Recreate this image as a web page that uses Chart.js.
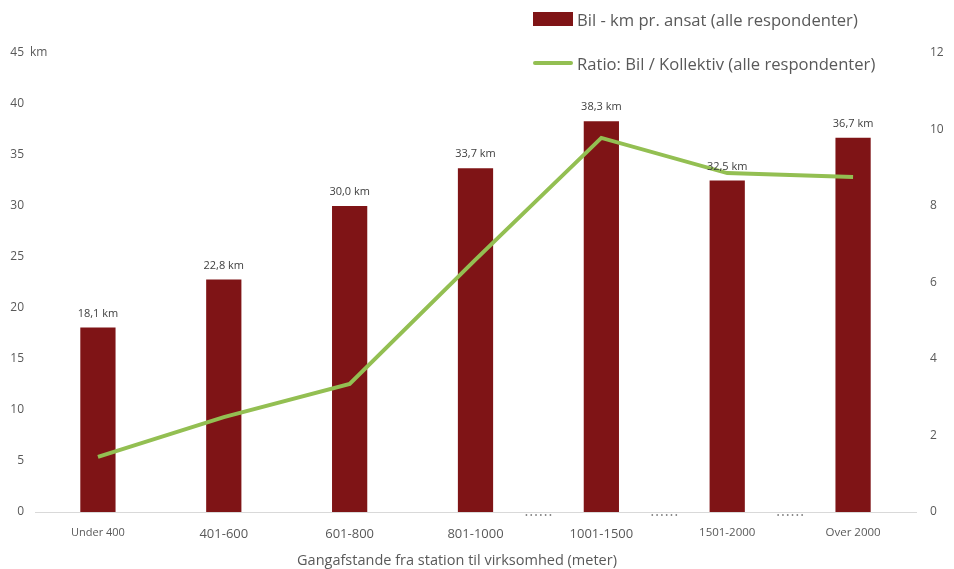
<!DOCTYPE html>
<html>
<head>
<meta charset="utf-8">
<script src="https://cdn.jsdelivr.net/npm/chart.js@4"></script>
<style>
  html, body { margin: 0; padding: 0; background: #fff; }
  #wrap { position: relative; width: 954px; height: 569px; font-family: "Open Sans", sans-serif; }
  #legend { position: absolute; left: 533px; top: 4px; color: #595959; font-size: 16.6px; }
  .item { display: flex; align-items: center; height: 30px; margin-bottom: 14px; }
  .sw { width: 40px; margin-right: 4px; }
</style>
</head>
<body>
<div id="wrap">
  <canvas id="chart" width="954" height="569"></canvas>
  <div id="legend"></div>
</div>
<script>
const categories = ["Under 400", "401-600", "601-800", "801-1000", "1001-1500", "1501-2000", "Over 2000"];
const kmPerEmployee = [18.1, 22.8, 30.0, 33.7, 38.3, 32.5, 36.7];
const ratioCarTransit = [1.44, 2.48, 3.35, 6.6, 9.78, 8.86, 8.76];
const tickSizes = [11, 13, 13, 13, 13, 11.5, 11.5];
// gaps in the distance bands, drawn as dotted marks between categories
const gapAfter = [3, 4, 5];

const barColor = "#7f1416";
const lineColor = "#93bf52";
const textColor = "#595959";

const extras = {
  id: "extras",
  afterDraw(chart) {
    const ctx = chart.ctx;
    ctx.save();
    // value labels over the bars
    ctx.fillStyle = "#404040";
    ctx.font = "11px 'Open Sans'";
    ctx.textAlign = "center";
    ctx.textBaseline = "middle";
    chart.getDatasetMeta(1).data.forEach((bar, i) => {
      ctx.fillText(kmPerEmployee[i].toFixed(1).replace(".", ",") + " km", bar.x, bar.y - 14);
    });
    // unit next to top tick
    const y = chart.scales.y;
    ctx.fillStyle = textColor;
    ctx.textAlign = "left";
    ctx.font = "12px 'Open Sans'";
    ctx.fillText("km", 30, y.getPixelForValue(45));
    // dotted gap marks
    const x = chart.scales.x;
    ctx.fillStyle = "#7f7f7f";
    gapAfter.forEach((i) => {
      const mid = (x.getPixelForValue(i) + x.getPixelForValue(i + 1)) / 2;
      for (let k = 0; k < 6; k++) {
        ctx.beginPath();
        ctx.arc(mid - 12 + k * 4.8, y.bottom + 3, 0.9, 0, Math.PI * 2);
        ctx.fill();
      }
    });
    // axis title, sits a bit left of the plot centre
    ctx.fillStyle = textColor;
    ctx.textAlign = "center";
    ctx.font = "14.5px 'Open Sans'";
    ctx.fillText("Gangafstande fra station til virksomhed (meter)", 457, 561);
    ctx.restore();
  },
};

const chart = new Chart(document.getElementById("chart"), {
  data: {
    labels: categories,
    datasets: [
      {
        type: "line",
        label: "Ratio: Bil / Kollektiv (alle respondenter)",
        data: ratioCarTransit,
        yAxisID: "y1",
        borderColor: lineColor,
        backgroundColor: lineColor,
        borderWidth: 4,
        pointRadius: 0,
        tension: 0,
        order: 0,
      },
      {
        type: "bar",
        label: "Bil - km pr. ansat (alle respondenter)",
        data: kmPerEmployee,
        yAxisID: "y",
        backgroundColor: barColor,
        barPercentage: 0.28,
        categoryPercentage: 1,
        order: 1,
      },
    ],
  },
  options: {
    responsive: false,
    animation: false,
    layout: { padding: { top: 53, right: 0, left: 0, bottom: 0 } },
    plugins: {
      legend: { display: false },
      tooltip: { enabled: false },
    },
    scales: {
      x: {
        grid: { display: false },
        border: { display: true, color: "#d9d9d9" },
        ticks: {
          color: textColor,
          padding: 6,
          maxRotation: 0,
          font: (c) => ({ family: "'Open Sans'", size: tickSizes[c.index] || 12 }),
        },
        afterFit: (s) => { s.height = 57; },
      },
      y: {
        position: "left",
        min: 0,
        max: 45,
        grid: { display: false },
        border: { display: false },
        ticks: { stepSize: 5, color: textColor, font: { family: "'Open Sans'", size: 12 }, padding: 3 },
        afterFit: (s) => { s.width = 35; },
      },
      y1: {
        position: "right",
        min: 0,
        max: 12,
        grid: { display: false },
        border: { display: false },
        ticks: { stepSize: 2, color: textColor, font: { family: "'Open Sans'", size: 12 }, padding: 6 },
        afterFit: (s) => { s.width = 38; },
      },
    },
  },
  plugins: [extras],
});

// legend stacked at the top right, bar series first
const legend = document.getElementById("legend");
[chart.data.datasets[1], chart.data.datasets[0]].forEach((ds) => {
  const item = document.createElement("div");
  item.className = "item";
  const sw = document.createElement("span");
  sw.className = "sw";
  sw.style.height = ds.type === "bar" ? "14px" : "4px";
  sw.style.background = ds.type === "bar" ? barColor : lineColor;
  sw.style.borderRadius = ds.type === "bar" ? "0" : "2px";
  const txt = document.createElement("span");
  txt.textContent = ds.label;
  item.appendChild(sw);
  item.appendChild(txt);
  legend.appendChild(item);
});
</script>
</body>
</html>
